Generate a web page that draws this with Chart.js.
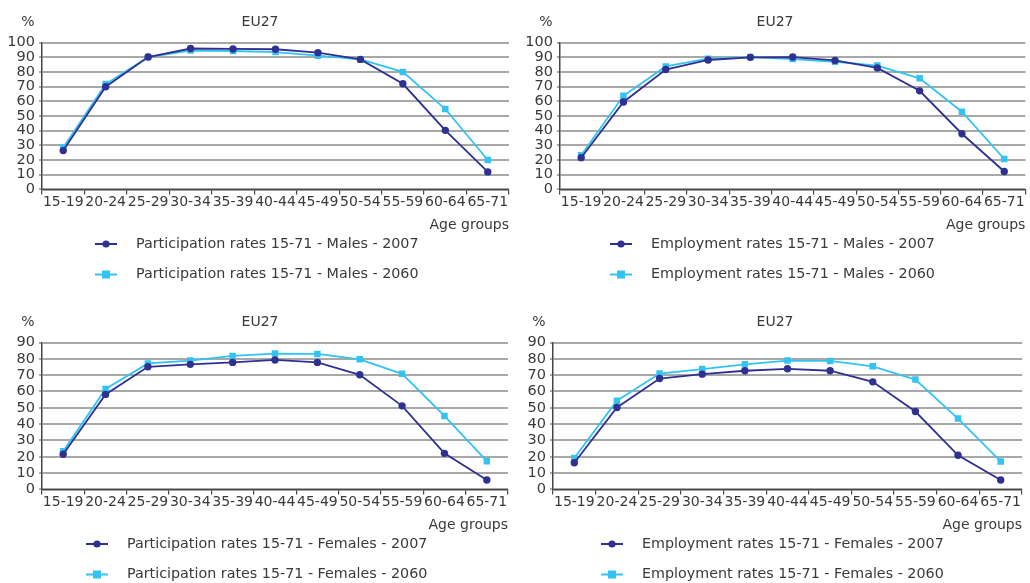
<!DOCTYPE html>
<html>
<head>
<meta charset="utf-8">
<script src="https://cdn.jsdelivr.net/npm/chart.js@4/dist/chart.umd.min.js"></script>
<style>
  html, body { margin: 0; padding: 0; background: #fff; }
  body { width: 1030px; height: 583px; position: relative; overflow: hidden; }
  .panel { position: absolute; width: 515px; }
  .panel canvas { display: block; }
</style>
</head>
<body>
<div class="panel" style="left:0;top:0;height:300px"><canvas id="c1"></canvas></div>
<div class="panel" style="left:515px;top:0;height:300px"><canvas id="c2"></canvas></div>
<div class="panel" style="left:0;top:300px;height:283px"><canvas id="c3"></canvas></div>
<div class="panel" style="left:515px;top:300px;height:283px"><canvas id="c4"></canvas></div>
<script>
// Age groups on the horizontal axis
const ageGroups = ['15-19', '20-24', '25-29', '30-34', '35-39', '40-44', '45-49', '50-54', '55-59', '60-64', '65-71'];

// Participation and employment rates, EU27 (%)
const partMales2007 = [26.4, 69.9, 90.1, 95.9, 95.6, 95.4, 93.1, 88.5, 71.9, 40.2, 11.9];
const partMales2060 = [28.5, 71.7, 90.1, 94.5, 94.2, 93.5, 91.0, 88.5, 80.0, 54.7, 20.0];
const empMales2007  = [21.6, 59.5, 81.6, 88.1, 89.9, 90.1, 87.8, 82.7, 67.1, 37.9, 12.2];
const empMales2060  = [23.2, 63.7, 83.7, 89.0, 90.1, 88.7, 86.9, 84.3, 75.6, 52.9, 20.7];
const partFemales2007 = [21.5, 58.2, 75.1, 76.6, 77.8, 79.3, 77.8, 70.2, 51.2, 22.1, 5.8];
const partFemales2060 = [23.3, 61.5, 77.2, 78.9, 81.8, 83.2, 83.0, 79.7, 70.8, 45.0, 17.3];
const empFemales2007  = [16.3, 50.2, 67.9, 70.6, 72.7, 73.9, 72.7, 65.9, 47.7, 20.9, 5.8];
const empFemales2060  = [19.2, 54.3, 71.0, 73.7, 76.6, 78.9, 78.7, 75.4, 67.3, 43.4, 17.1];

const panelTitle = 'EU27';
const unitLabel = '%';
const axisTitle = 'Age groups';

const DARK = '#2E3192';
const LIGHT = '#33C3F2';
const TEXT = '#3a3a3a';
const GRID = '#A8A8A8';
const AXIS = '#454545';
const FONT = 'DejaVu Sans';

// Header ("%" and panel title) plus a stacked legend with line+marker swatches
const decorations = {
  id: 'decorations',
  afterDraw(chart, args, opts) {
    const ctx = chart.ctx;
    const area = chart.chartArea;
    ctx.save();
    ctx.fillStyle = TEXT;
    ctx.textBaseline = 'middle';
    ctx.font = '14px "' + FONT + '"';
    ctx.textAlign = 'center';
    ctx.fillText(unitLabel, area.left - 14, 22.5);
    ctx.fillText(opts.title, 260, 22.5);

    // legend block, centred, markers aligned in one column
    ctx.font = '14.3px "' + FONT + '"';
    const ds = chart.data.datasets;
    const widths = ds.map(d => ctx.measureText(d.label).width);
    const blockW = 22 + 19 + Math.max(...widths);
    const left = Math.round(257 - blockW / 2);
    const rows = [244, 274.5];
    ds.forEach((d, i) => {
      const y = rows[i];
      ctx.strokeStyle = d.borderColor;
      ctx.lineWidth = 2;
      ctx.beginPath();
      ctx.moveTo(left, y);
      ctx.lineTo(left + 22, y);
      ctx.stroke();
      ctx.fillStyle = d.pointBackgroundColor;
      if (d.pointStyle === 'rect') {
        ctx.fillRect(left + 11 - 4, y - 4, 8, 8);
      } else {
        ctx.beginPath();
        ctx.arc(left + 11, y, 3.6, 0, Math.PI * 2);
        ctx.fill();
      }
      ctx.fillStyle = TEXT;
      ctx.textAlign = 'left';
      ctx.fillText(d.label, left + 41, y);
    });
    ctx.restore();
  }
};

function series(label, data, color, style) {
  return {
    label: label,
    data: data,
    borderColor: color,
    backgroundColor: color,
    pointBackgroundColor: color,
    pointBorderColor: color,
    pointStyle: style,
    pointRadius: style === 'rect' ? 4.6 : 3.7,
    pointBorderWidth: 0,
    borderWidth: 1.8,
    tension: 0,
    fill: false
  };
}

function makeChart(id, yMax, axisWidth, rightPad, bottomPad, sets) {
  return new Chart(document.getElementById(id), {
    type: 'line',
    data: { labels: ageGroups, datasets: sets },
    plugins: [decorations],
    options: {
      responsive: true,
      maintainAspectRatio: false,
      animation: false,
      events: [],
      layout: { padding: { top: 42.5, left: 0, right: rightPad, bottom: bottomPad } },
      plugins: {
        legend: { display: false },
        title: { display: false },
        tooltip: { enabled: false },
        decorations: { title: panelTitle }
      },
      scales: {
        x: {
          type: 'category',
          offset: true,
          grid: { offset: true, drawOnChartArea: false, drawTicks: true, tickLength: 5, color: AXIS, lineWidth: 1.2 },
          border: { display: true, color: AXIS, width: 1.5 },
          ticks: { color: TEXT, font: { family: FONT, size: 14 }, maxRotation: 0, minRotation: 0, autoSkip: false, padding: 0 },
          title: { display: true, text: axisTitle, align: 'end', color: TEXT, font: { family: FONT, size: 14 }, padding: { top: 6, bottom: 0 } }
        },
        y: {
          min: 0,
          max: yMax,
          afterFit(scale) { scale.width = axisWidth; },
          ticks: { stepSize: 10, autoSkip: false, color: TEXT, font: { family: FONT, size: 14.5 }, padding: 4 },
          grid: { color: GRID, lineWidth: 2, tickLength: 3 },
          border: { display: true, color: AXIS, width: 1.5 }
        }
      }
    }
  });
}

makeChart('c1', 100, 42, 6, 66, [
  series('Participation rates 15-71 - Males - 2007', partMales2007, DARK, 'circle'),
  series('Participation rates 15-71 - Males - 2060', partMales2060, LIGHT, 'rect')
]);
makeChart('c2', 100, 45, 3, 66, [
  series('Employment rates 15-71 - Males - 2007', empMales2007, DARK, 'circle'),
  series('Employment rates 15-71 - Males - 2060', empMales2060, LIGHT, 'rect')
]);
makeChart('c3', 90, 42, 7, 49, [
  series('Participation rates 15-71 - Females - 2007', partFemales2007, DARK, 'circle'),
  series('Participation rates 15-71 - Females - 2060', partFemales2060, LIGHT, 'rect')
]);
makeChart('c4', 90, 38, 8, 49, [
  series('Employment rates 15-71 - Females - 2007', empFemales2007, DARK, 'circle'),
  series('Employment rates 15-71 - Females - 2060', empFemales2060, LIGHT, 'rect')
]);
</script>
</body>
</html>
